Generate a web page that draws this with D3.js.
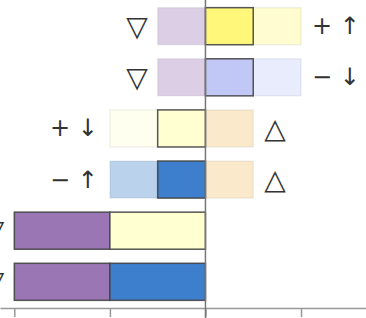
<!DOCTYPE html>
<html>
<head>
<meta charset="utf-8">
<script src="https://cdn.jsdelivr.net/npm/d3@7"></script>
<style>
  body { margin: 0; background: #fff; }
  .sym { font-family: "DejaVu Sans", sans-serif; font-size: 28px; fill: #333; }
  .sym.arrow { font-size: 24px; }
  .x-axis path, .x-axis line { stroke: #999; stroke-width: 1.5; }
</style>
</head>
<body>
<script>
// rows, top to bottom
var rows = ["r1", "r2", "r3", "r4", "r5", "r6"];
var leftLabels = ["\u25BD", "\u25BD", "+ \u2193", "\u2212 \u2191", "\u25BD", "\u25BD"];
var rightLabels = ["+ \u2191", "\u2212 \u2193", "\u25B3", "\u25B3", "", ""];

// segments: [row, start, end, colour key, faded]
var segStart = [-0.5, 0, 0.5, -0.5, 0, 0.5, -1, -0.5, 0, -1, -0.5, 0, -2, -1, -2, -1];
var segEnd = [0, 0.5, 1, 0, 0.5, 1, -0.5, 0, 0.5, -0.5, 0, 0.5, -1, 0, -1, 0];
var segRow = ["r1", "r1", "r1", "r2", "r2", "r2", "r3", "r3", "r3", "r4", "r4", "r4", "r5", "r5", "r6", "r6"];
var segColour = ["purple", "yellow", "yellow", "purple", "lavender", "lavender",
    "cream", "cream", "orange", "blue", "blue", "orange", "purple", "cream", "purple", "blue"];
var segFaded = [1, 0, 1, 1, 0, 1, 1, 0, 1, 1, 0, 1, 0, 0, 0, 0];

var tickValues = [-2, -1, 0, 1];

var colours = {
    purple: "#9a76b4",
    yellow: "#fff77a",
    lavender: "#c1c8f5",
    cream: "#ffffd2",
    orange: "#f3bf6c",
    blue: "#3d7fcc"
};

var width = 366, height = 318;

var svg = d3.select("body").append("svg")
    .attr("width", width)
    .attr("height", height);

var x = d3.scaleLinear()
    .domain([-2.15, 1.68])
    .range([0, width]);

var y = d3.scaleBand()
    .domain(rows)
    .range([0.5, 307.5])
    .paddingInner(0.275)
    .paddingOuter(0.14);

var segments = segRow.map(function (r, i) {
    return { row: r, start: segStart[i], end: segEnd[i], colour: colours[segColour[i]], faded: segFaded[i] };
});

// faded blocks first, strong ones on top
segments.sort(function (a, b) { return b.faded - a.faded; });

svg.append("g")
    .selectAll("rect")
    .data(segments)
    .enter().append("rect")
    .attr("x", d => x(d.start))
    .attr("y", d => y(d.row))
    .attr("width", d => x(d.end) - x(d.start))
    .attr("height", y.bandwidth())
    .attr("fill", d => d.colour)
    .attr("fill-opacity", d => d.faded ? 0.35 : 1)
    .attr("stroke", d => d.faded ? "#000" : "#444")
    .attr("stroke-opacity", d => d.faded ? 0.06 : 0.9)
    .attr("stroke-width", 1.5);

// row labels, placed beside the outermost block on each side
function isArrow(t) { return t.length > 1; }

rows.forEach(function (r, i) {
    var own = segments.filter(s => s.row === r);
    var minX = d3.min(own, s => s.start);
    var maxX = d3.max(own, s => s.end);
    var cy = y(r) + y.bandwidth() / 2;
    svg.append("text")
        .attr("class", isArrow(leftLabels[i]) ? "sym arrow" : "sym")
        .attr("x", x(minX) - (isArrow(leftLabels[i]) ? 12 : 10))
        .attr("y", cy)
        .attr("text-anchor", "end")
        .attr("dominant-baseline", "central")
        .text(leftLabels[i]);
    if (rightLabels[i]) {
        svg.append("text")
            .attr("class", isArrow(rightLabels[i]) ? "sym arrow" : "sym")
            .attr("x", x(maxX) + 11)
            .attr("y", cy)
            .attr("text-anchor", "start")
            .attr("dominant-baseline", "central")
            .text(rightLabels[i]);
    }
});

var axis = d3.axisBottom(x)
    .tickValues(tickValues)
    .tickSize(9)
    .tickSizeOuter(0)
    .tickFormat("");

svg.append("g")
    .attr("class", "x-axis")
    .attr("transform", "translate(0,308)")
    .call(axis);

// zero line
svg.append("line")
    .attr("x1", x(0)).attr("x2", x(0))
    .attr("y1", 0).attr("y2", height)
    .attr("stroke", "#777")
    .attr("stroke-width", 1.5);
</script>
</body>
</html>
